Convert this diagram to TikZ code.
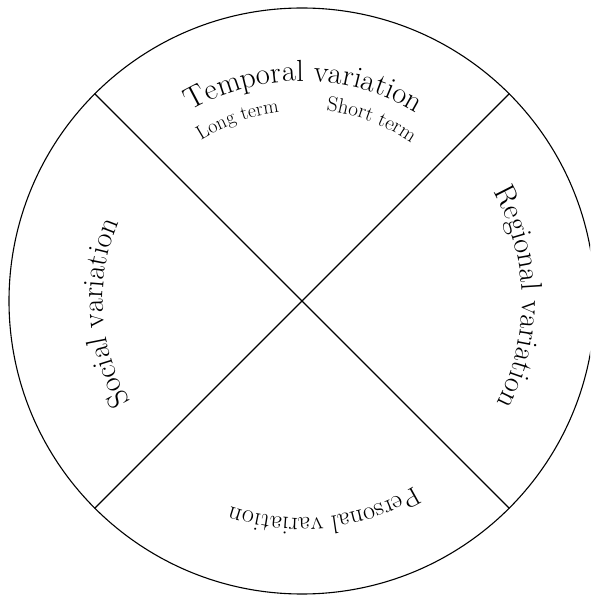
\documentclass[tikz,border=0pt]{standalone}
\usetikzlibrary{decorations.text}
\tikzset{arclabel/.style={decorate, decoration={text along path, text align=center, text={#1}}}}
\begin{document}
\begin{tikzpicture}[x=1pt, y=1pt, line join=round, line cap=round]
	\def\R{293}
	\useasboundingbox (0,0) rectangle (590,595);
	\clip (0,0) rectangle (590,595);
	\path
	(302,294) coordinate (O)
	(O) ++(45:\R) coordinate (NE)
	(O) ++(135:\R) coordinate (NW)
	(O) ++(225:\R) coordinate (SW)
	(O) ++(315:\R) coordinate (SE)
	;
	\draw[line width=1.1pt] (O) circle (\R);
	\draw[line width=1.1pt] (NW)--(SE) (NE)--(SW);
	% labels along the arcs
	\path[arclabel={|\fontsize{30.5}{33}\selectfont|Temporal variation}] (O) ++(123:220) arc[start angle=123, end angle=56, radius=220];
	\path[arclabel={|\fontsize{20}{22}\selectfont|Long term}] (O) ++(124:190) arc[start angle=124, end angle=95, radius=190];
	\path[arclabel={|\fontsize{21}{23}\selectfont|Short term}] (O) ++(85:192) arc[start angle=85, end angle=53, radius=192];
	\path[arclabel={|\fontsize{30}{32}\selectfont|Regional variation}] (O) ++(33:220) arc[start angle=33, end angle=-31, radius=220];
	\path[arclabel={|\fontsize{26}{28}\selectfont|Personal variation}] (O) ++(-58:217) arc[start angle=-58, end angle=-110, radius=217];
	\path[arclabel={|\fontsize{30}{32}\selectfont|Social variation}] (O) ++(214:199) arc[start angle=214, end angle=153, radius=199];
\end{tikzpicture}
\end{document}
